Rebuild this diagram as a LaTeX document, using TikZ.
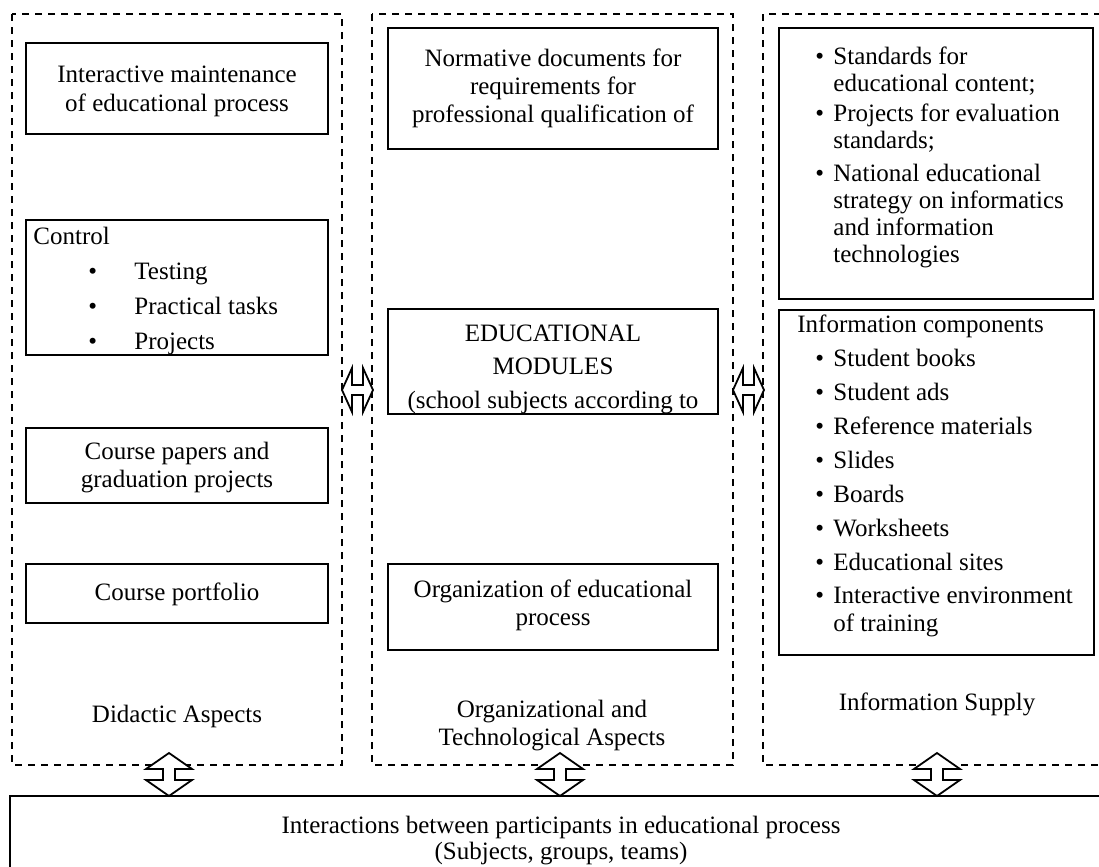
\documentclass[tikz,border=0pt]{standalone}
\usepackage{fontspec}
\setmainfont{Liberation Serif}
\newcommand\myVarrow[2]{\draw[dblarrow] (#1,#2) -- ++(23,16) -- ++(-17,0) -- ++(0,11) -- ++(17,0) -- ++(-23,16) -- ++(-23,-16) -- ++(17,0) -- ++(0,-11) -- ++(-17,0) -- cycle;}
\newcommand\myHarrow[2]{\draw[dblarrow] (#1,#2) -- ++(10,-22) -- ++(0,17) -- ++(11,0) -- ++(0,-17) -- ++(10,22) -- ++(-10,22) -- ++(0,-17) -- ++(-11,0) -- ++(0,17) -- cycle;}
\begin{document}
\begin{tikzpicture}[x=0.5pt,y=-0.5pt,
  txt/.style={font=\fontsize{12.5}{14.4}\selectfont, inner sep=0pt, anchor=base},
  txtl/.style={txt, anchor=base west},
  box/.style={draw, line width=1pt},
  zone/.style={draw, line width=0.8pt, dash pattern=on 3.5pt off 3pt},
  dblarrow/.style={draw, fill=white, line width=0.9pt, line join=miter}]
\useasboundingbox (0,0) rectangle (1099,867);
\clip (0,0) rectangle (1099,867);

% zones
\draw[zone] (12,14) rectangle (342,765);
\draw[zone] (372,14) rectangle (733,765);
\draw[zone] (763,14) rectangle (1130,765);

% bottom box
\draw[box] (10,796) rectangle (1130,900);
\node[txt] (inter1) at (561,833) {Interactions between participants in educational process};
\node[txt] (inter2) at (561,859) {(Subjects, groups, teams)};

% left column
\draw[box] (26,43) rectangle (328,134);
\node[txt] (im1) at (177,83) {Interactive maintenance};
\node[txt] (im2) at (177,111) {of educational process};

\begin{scope}
\clip (26,220) rectangle (328,355);
\node[txtl] (ctl) at (33,244) {Control};
\node[txtl] (b1) at (88,279) {\textbullet};
\node[txtl] (t1) at (134,279) {Testing};
\node[txtl] (b2) at (88,314) {\textbullet};
\node[txtl] (t2) at (134,314) {Practical tasks};
\node[txtl] (b3) at (88,349) {\textbullet};
\node[txtl] (t3) at (134,349) {Projects};
\end{scope}
\draw[box] (26,220) rectangle (328,355);

\draw[box] (26,428) rectangle (328,503);
\node[txt] (cp1) at (177,459) {Course papers and};
\node[txt] (cp2) at (177,487) {graduation projects};

\draw[box] (26,564) rectangle (328,623);
\node[txt] (port) at (177,600) {Course portfolio};

\node[txt] (did) at (177,722) {Didactic Aspects};

% middle column
\draw[box] (388,28) rectangle (718,149);
\node[txt] (nd1) at (553,66) {Normative documents for};
\node[txt] (nd2) at (553,94) {requirements for};
\node[txt] (nd3) at (553,122) {professional qualification of};

\begin{scope}
\clip (388,309) rectangle (718,414);
\node[txt] (em1) at (553,341) {EDUCATIONAL};
\node[txt] (em2) at (553,374) {MODULES};
\node[txt] (em3) at (553,408) {(school subjects according to};
\end{scope}
\draw[box] (388,309) rectangle (718,414);

\draw[box] (388,564) rectangle (718,650);
\node[txt] (org1) at (553,597) {Organization of educational};
\node[txt] (org2) at (553,625) {process};

\node[txt] (ota1) at (552,717) {Organizational and};
\node[txt] (ota2) at (552,745) {Technological Aspects};

% right column
\draw[box] (779,28) rectangle (1093,299);
\node[txtl] (rb1) at (815,64) {\textbullet};
\node[txtl] (rs1) at (833,64) {Standards for};
\node[txtl] (rs2) at (833,91) {educational content;};
\node[txtl] (rb2) at (815,121) {\textbullet};
\node[txtl] (rs3) at (833,121) {Projects for evaluation};
\node[txtl] (rs4) at (833,148) {standards;};
\node[txtl] (rb3) at (815,181) {\textbullet};
\node[txtl] (rs5) at (833,181) {National educational};
\node[txtl] (rs6) at (833,208) {strategy on informatics};
\node[txtl] (rs7) at (833,235) {and information};
\node[txtl] (rs8) at (833,262) {technologies};

\draw[box] (779,310) rectangle (1094,655);
\node[txtl] (ic) at (797,332) {Information components};
\foreach \y/\t [count=\i] in {366/Student books, 400/Student ads, 434/Reference materials, 468/Slides, 502/Boards, 536/Worksheets, 570/Educational sites, 603/Interactive environment}{
  \node[txtl] (icb\i) at (815,\y) {\textbullet};
  \node[txtl] (ict\i) at (833,\y) {\t};
}
\node[txtl] (ict9) at (833,631) {of training};

\node[txt] (infs) at (937,710) {Information Supply};

% double arrows
\myHarrow{342}{390}
\myHarrow{733}{390}
\myVarrow{169}{753}
\myVarrow{560}{753}
\myVarrow{937}{753}
\end{tikzpicture}
\end{document}
